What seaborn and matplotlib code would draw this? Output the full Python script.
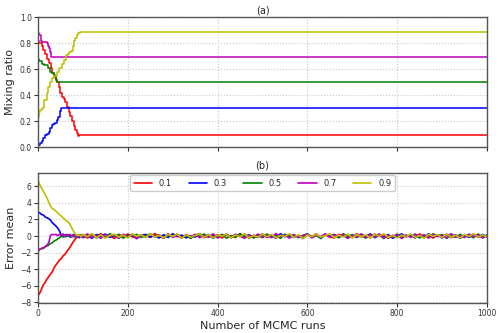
import numpy as np
import pandas as pd
import matplotlib
matplotlib.use('Agg')
import matplotlib.pyplot as plt
import seaborn as sns

# labels / colours
labels = ['0.1', '0.3', '0.5', '0.7', '0.9']
colors = ['#ff0000', '#0000ff', '#008000', '#bf00bf', '#bfbf00']

red_runs = [0, 3, 8, 12, 16, 19, 24, 28, 31, 35, 39, 42, 46, 49, 53, 57, 60, 64, 68, 72, 76, 80, 83, 86, 89, 92, 1000]
red_vals = [0.82, 0.80, 0.78, 0.75, 0.72, 0.68, 0.65, 0.61, 0.57, 0.54, 0.52, 0.50, 0.46, 0.42, 0.39, 0.37, 0.35,
            0.31, 0.27, 0.24, 0.20, 0.16, 0.13, 0.11, 0.087, 0.093, 0.093]
blue_runs = [0, 4, 8, 12, 16, 20, 24, 27, 31, 34, 38, 42, 45, 48, 50, 52, 1000]
blue_vals = [0.02, 0.03, 0.05, 0.07, 0.095, 0.10, 0.12, 0.15, 0.17, 0.18, 0.19, 0.21, 0.23, 0.25, 0.28, 0.305, 0.305]
green_runs = [0, 3, 8, 13, 19, 23, 27, 31, 35, 38, 41, 43, 1000]
green_vals = [0.68, 0.66, 0.64, 0.635, 0.635, 0.61, 0.58, 0.57, 0.555, 0.545, 0.52, 0.50, 0.50]
magenta_runs = [0, 3, 6, 10, 15, 19, 22, 25, 27, 29, 1000]
magenta_vals = [0.88, 0.86, 0.82, 0.81, 0.81, 0.80, 0.78, 0.76, 0.73, 0.695, 0.695]
yellow_runs = [0, 2, 5, 10, 14, 19, 23, 27, 31, 36, 42, 47, 53, 58, 62, 66, 70, 73, 77, 80, 83, 87, 90, 93, 1000]
yellow_vals = [0.23, 0.27, 0.29, 0.30, 0.36, 0.42, 0.46, 0.50, 0.53, 0.55, 0.58, 0.61, 0.64, 0.67, 0.71, 0.72,
               0.73, 0.74, 0.78, 0.82, 0.84, 0.86, 0.88, 0.887, 0.887]

# (b) error mean: first 100 runs every 4 runs, then the residual band (units of 0.02) up to 1000
head_runs = list(range(0, 100, 4))
red_head = [-7.2, -6.9, -6.4, -5.9, -5.6, -5.2, -4.9, -4.6, -4.3, -3.8, -3.5, -3.2, -2.9, -2.7, -2.4, -2.2,
            -1.9, -1.6, -1.3, -0.9, -0.6, -0.3, -0.05, 0.1, -0.1]
blue_head = [2.9, 2.8, 2.6, 2.55, 2.3, 2.2, 2.1, 1.9, 1.6, 1.4, 1.2, 0.95, 0.6, 0.05, -0.1, 0.15, -0.05, 0.1,
             -0.15, 0.05, 0.2, -0.1, 0.05, -0.2, 0.1]
green_head = [-1.8, -1.6, -1.5, -1.5, -1.3, -1.2, -1.1, -0.9, -0.8, -0.6, -0.5, -0.35, -0.2, -0.05, 0.1, -0.1,
              0.05, 0.15, -0.05, 0.1, -0.1, 0.05, 0.1, -0.05, 0.15]
magenta_head = [-1.9, -1.6, -1.5, -1.4, -1.3, -1.1, -0.8, 0.1, 0.2, 0.15, 0.2, 0.05, 0.2, 0.1, 0.25, 0.0,
                0.2, 0.1, 0.2, -0.1, 0.15, 0.05, -0.15, 0.1, 0.05]
yellow_head = [6.7, 6.2, 5.8, 5.4, 5.0, 4.6, 4.1, 3.6, 3.3, 3.2, 3.0, 2.8, 2.6, 2.4, 2.2, 2.0, 1.8, 1.7, 1.3,
               0.9, 0.5, 0.2, 0.05, 0.15, -0.05]

red_tail = [5, -12, 8, -3, 14, -9, 2, -15, 10, -6, 12, -4, -11, 7, 3, -8, 15, -2, -13, 9, -5, 11, -7, 4, -14,
            6, 13, -10, 1, -6, 8, -12, 10, -3, -9, 14, -5, 7, -11, 2, 12, -8, 5, -13, 9, -4, 11, -7, 3, -15,
            8, -2, 13, -10, 6, -5, -12, 10, -1, 7, -9, 14, -6, 4, -11, 12, -3, 9, -14, 5, -8, 11, -4, 2, -10,
            13, -7, 6, -12, 8, -2, 10, -9, 4, -13, 7, -5, 12, -8, 3, -6]
blue_tail = [-10, 6, -14, 9, -3, 12, -8, 4, -13, 7, -2, 11, -15, 5, 10, -6, 3, -12, 8, -9, 14, -4, 6, -11, 2,
             -7, 13, -5, 9, -14, 4, -1, 11, -10, 7, -3, 12, -13, 5, -8, 10, -6, 2, -12, 14, -4, 8, -9, 3, -11,
             12, -5, 6, -15, 9, -2, 10, -8, 4, -13, 7, -6, 11, -3, 13, -10, 5, -7, 9, -14, 2, 12, -5, 8, -11,
             3, -9, 14, -4, 6, -12, 10, -2, 7, -13, 4, -8, 11, -6, 9, -3]
green_tail = [8, -5, 12, -11, 3, -7, 14, -2, 9, -13, 6, -4, 10, -9, 2, 13, -6, 7, -12, 4, -3, 11, -10, 5, -14,
              9, -1, 12, -8, 6, -5, 10, -13, 3, -7, 14, -4, 8, -11, 2, -9, 12, -6, 5, -14, 11, -3, 7, -10, 4,
              13, -8, 2, -12, 9, -5, 6, -11, 14, -2, 8, -9, 3, -13, 10, -4, 7, -15, 5, -6, 12, -10, 4, -3, 11,
              -12, 6, -7, 13, -1, 9, -14, 5, -8, 10, -4, 3, -11, 12, -6, 7]
magenta_tail = [-6, 13, -9, 4, -14, 10, -2, 7, -12, 11, -5, 3, -15, 8, -7, 12, -3, 6, -11, 14, -8, 2, -13, 9,
                -4, 10, -10, 5, -6, 13, -12, 3, 8, -9, 11, -1, -14, 7, -5, 12, -8, 4, -10, 15, -3, 6, -13, 9,
                -7, 2, 11, -11, 5, -4, 14, -9, 7, -2, 10, -14, 3, -6, 12, -10, 8, -5, 13, -12, 4, -3, 9, -15,
                6, -8, 11, -1, 7, -13, 10, -4, 5, -11, 14, -7, 2, -9, 12, -5, 8, -12, 3]
yellow_tail = [9, -4, 14, -10, 6, -13, 3, 11, -7, 5, -12, 13, -2, 8, -9, 15, -5, 4, -11, 10, -3, 12, -14, 7,
               -6, 2, 13, -8, 9, -12, 5, -1, 11, -10, 6, -4, 14, -13, 3, -7, 12, -5, 10, -11, 4, -2, 13, -9,
               8, -14, 6, -3, 11, -7, 2, 15, -10, 5, -6, 12, -12, 9, -4, 7, -13, 10, -1, 14, -8, 3, -11, 6, -5,
               13, -9, 4, -14, 11, -2, 8, -10, 12, -6, 5, -12, 9, -3, 14, -7, 6, -4]

sns.set_style('whitegrid', {'grid.linestyle': ':', 'grid.color': '#c8c8c8', 'axes.edgecolor': '#555555'})
plt.rcParams['font.family'] = ['DejaVu Sans']
plt.rcParams['xtick.color'] = '#333333'
plt.rcParams['ytick.color'] = '#333333'

# long-format tables
mix_rows = []
for lab, runs, vals in zip(labels, [red_runs, blue_runs, green_runs, magenta_runs, yellow_runs],
                           [red_vals, blue_vals, green_vals, magenta_vals, yellow_vals]):
    mix_rows.append(pd.DataFrame({'run': runs, 'value': vals, 'series': lab}))
df_mix = pd.concat(mix_rows, ignore_index=True)

err_rows = []
for lab, head, tail in zip(labels, [red_head, blue_head, green_head, magenta_head, yellow_head],
                           [red_tail, blue_tail, green_tail, magenta_tail, yellow_tail]):
    runs = head_runs + list(np.linspace(100, 1000, len(tail)))
    vals = head + [t * 0.02 for t in tail]
    err_rows.append(pd.DataFrame({'run': runs, 'value': vals, 'series': lab}))
df_err = pd.concat(err_rows, ignore_index=True)

fig = plt.figure(figsize=(5, 3.33), dpi=100)
ax1 = fig.add_axes([0.076, 0.558, 0.898, 0.39])
ax2 = fig.add_axes([0.076, 0.09, 0.898, 0.39])

pal = dict(zip(labels, colors))
sns.lineplot(data=df_mix, x='run', y='value', hue='series', palette=pal, ax=ax1,
             drawstyle='steps-post', linewidth=1.1, legend=False, estimator=None, sort=False)
sns.lineplot(data=df_err, x='run', y='value', hue='series', palette=pal, ax=ax2,
             linewidth=1.2, estimator=None, sort=False)

for ax in (ax1, ax2):
    ax.set_xlim(0, 1000)
    ax.set_xticks([0, 200, 400, 600, 800, 1000])
    ax.tick_params(axis='both', labelsize=5.5, length=3, width=0.8, bottom=True, left=True, pad=1.5)
    for sp in ax.spines.values():
        sp.set_linewidth(1.0)

ax1.set_ylim(0, 1.0)
ax1.set_yticks([0, 0.2, 0.4, 0.6, 0.8, 1.0])
ax1.set_xticklabels([])
ax1.set_xlabel('')
ax1.set_ylabel('Mixing ratio', fontsize=8, labelpad=3)
ax1.set_title('(a)', fontsize=7, pad=3)

ax2.set_ylim(-8.1, 7.6)
ax2.set_yticks([-8, -6, -4, -2, 0, 2, 4, 6])
ax2.set_xlabel('Number of MCMC runs', fontsize=8, labelpad=2)
ax2.set_ylabel('Error mean', fontsize=8, labelpad=3)
ax2.set_title('(b)', fontsize=7, pad=3)
ax2.legend(loc='upper center', ncol=5, fontsize=6, frameon=True, borderaxespad=0.25,
           handlelength=2.2, columnspacing=2.0, edgecolor='#cccccc', fancybox=True, framealpha=1)

fig.savefig('out.png', dpi=100)
